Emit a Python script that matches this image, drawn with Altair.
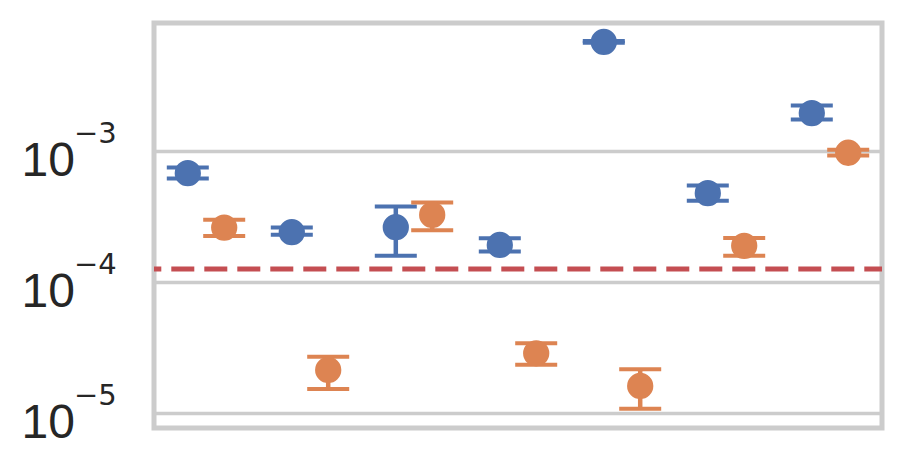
import altair as alt
import pandas as pd

# ---- data ----
groups = [0, 1, 2, 3, 4, 5, 6]
series_names = ["A", "B"]

blue_mean = [6.75e-4, 2.39e-4, 2.61e-4, 1.91e-4, 6.78e-3, 4.75e-4, 1.94e-3]
blue_lo = [6.14e-4, 2.28e-4, 1.58e-4, 1.70e-4, 6.68e-3, 4.15e-4, 1.73e-3]
blue_hi = [7.45e-4, 2.59e-4, 3.75e-4, 2.15e-4, 6.88e-3, 5.43e-4, 2.22e-3]

orange_mean = [2.59e-4, 2.12e-5, 3.24e-4, 2.84e-5, 1.60e-5, 1.88e-4, 9.66e-4]
orange_lo = [2.24e-4, 1.52e-5, 2.47e-4, 2.32e-5, 1.07e-5, 1.58e-4, 9.21e-4]
orange_hi = [2.97e-4, 2.68e-5, 4.02e-4, 3.39e-5, 2.15e-5, 2.16e-4, 1.02e-3]

threshold = [1.25e-4]

tick_values = [1e-3, 1e-4, 1e-5]
tick_bases = ["10", "10", "10"]
tick_exponents = ["\u22123", "\u22124", "\u22125"]

# ---- tables ----
rows = []
for s, means, los, his in [("A", blue_mean, blue_lo, blue_hi),
                           ("B", orange_mean, orange_lo, orange_hi)]:
    for g, m, lo, hi in zip(groups, means, los, his):
        rows.append(dict(group=g, series=s, mean=m, lo=lo, hi=hi))
df = pd.DataFrame(rows)
thr_df = pd.DataFrame({"v": threshold})
lab_df = pd.DataFrame({"v": tick_values, "base": tick_bases, "exp": tick_exponents})

x_scale = alt.Scale(domain=[-0.5, 6.5], nice=False, zero=False)
y_scale = alt.Scale(type="log", domain=[7.64e-6, 9.46e-3], nice=False)
color_scale = alt.Scale(domain=series_names, range=["#4C72B0", "#DD8452"])

y_axis = alt.Axis(values=tick_values, labels=False, ticks=False, domain=False,
                  grid=True, gridColor="#cccccc", gridWidth=3.5, title=None)

base = alt.Chart(df).transform_calculate(
    xpos="datum.group + (datum.series == 'A' ? -0.175 : 0.175)"
)
x_enc = alt.X("xpos:Q", scale=x_scale, axis=None)
color_enc = alt.Color("series:N", scale=color_scale, legend=None)

stems = base.mark_rule(strokeWidth=4.5, opacity=1).encode(
    x=x_enc,
    y=alt.Y("lo:Q", scale=y_scale, axis=y_axis),
    y2="hi:Q",
    color=color_enc,
)
caps_lo = base.mark_tick(orient="horizontal", size=42, thickness=4, opacity=1).encode(
    x=x_enc, y=alt.Y("lo:Q", scale=y_scale, axis=y_axis), color=color_enc
)
caps_hi = base.mark_tick(orient="horizontal", size=42, thickness=4, opacity=1).encode(
    x=x_enc, y=alt.Y("hi:Q", scale=y_scale, axis=y_axis), color=color_enc
)
points = base.mark_circle(size=690, opacity=1).encode(
    x=x_enc, y=alt.Y("mean:Q", scale=y_scale, axis=y_axis), color=color_enc
)

thr = alt.Chart(thr_df).mark_rule(
    color="#C44E52", strokeWidth=5, strokeDash=[23, 10], strokeDashOffset=5.3
).encode(y=alt.Y("v:Q", scale=y_scale, axis=y_axis))

lbl_base = alt.Chart(lab_df).mark_text(
    align="right", baseline="alphabetic", fontSize=48, font="Liberation Sans",
    color="#262626", dy=25
).encode(x=alt.value(-79), y=alt.Y("v:Q", scale=y_scale, axis=y_axis), text="base:N")

lbl_exp = alt.Chart(lab_df).mark_text(
    align="left", baseline="alphabetic", fontSize=29, font="DejaVu Sans",
    color="#262626", dy=-7.5
).encode(x=alt.value(-80), y=alt.Y("v:Q", scale=y_scale, axis=y_axis), text="exp:N")

chart = alt.layer(stems, caps_lo, caps_hi, points, thr, lbl_base, lbl_exp).properties(
    width=728,
    height=405,
    padding={"left": 154, "top": 23, "right": 18, "bottom": 22},
    autosize="none",
    background="white",
).configure_view(stroke="#cccccc", strokeWidth=5)

chart.save("out.html", embed_options={"renderer": "svg", "actions": False})
